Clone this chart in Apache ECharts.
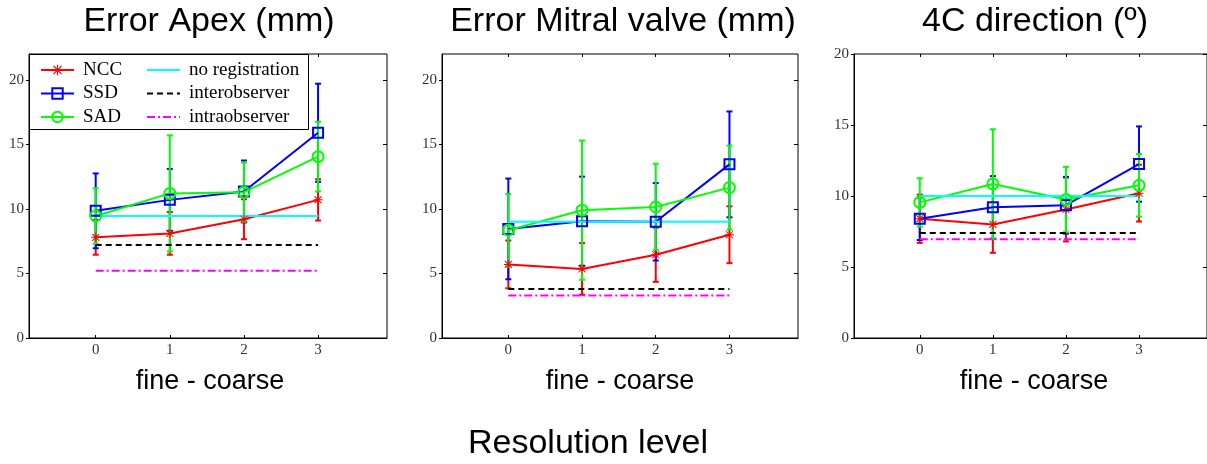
<!DOCTYPE html>
<html>
<head>
<meta charset="utf-8">
<script src="https://cdn.jsdelivr.net/npm/echarts@6/dist/echarts.min.js"></script>
<style>
  html, body { margin: 0; padding: 0; background: #fff; }
  #chart { width: 1207px; height: 464px; }
</style>
</head>
<body>
<div id="chart"></div>
<script>
// resolution levels (fine -> coarse)
const levels = [0, 1, 2, 3];
const xTicks = [0, 1, 2, 3];
const panelTitles = ['Error Apex (mm)', 'Error Mitral valve (mm)', '4C direction (º)'];
const yMaxes = [22, 22, 20];
const yTicks = [0, 5, 10, 15, 20];

// mean values per panel: [apex, mitral, 4C]
const nccMean = [[7.8, 8.1, 9.2, 10.7], [5.7, 5.35, 6.45, 8.0], [8.4, 8.0, 9.05, 10.2]];
const nccErr = [[1.35, 1.65, 1.55, 1.6], [1.85, 2.0, 2.1, 2.2], [1.7, 2.0, 2.25, 2.0]];
const ssdMean = [[9.85, 10.7, 11.35, 15.9], [8.45, 9.05, 9.0, 13.45], [8.4, 9.2, 9.35, 12.25]];
const ssdErr = [[2.9, 2.4, 2.4, 3.8], [3.9, 3.45, 3.0, 4.1], [1.5, 2.2, 2.0, 2.65]];
const sadMean = [[9.45, 11.2, 11.3, 14.05], [8.35, 9.9, 10.15, 11.65], [9.55, 10.85, 9.75, 10.75]];
const sadErr = [[2.15, 4.5, 2.3, 2.7], [2.8, 5.4, 3.35, 3.25], [1.7, 3.85, 2.3, 2.2]];

// reference levels per panel
const noRegistration = [9.45, 9.0, 10.0];
const interobserver = [7.2, 3.8, 7.4];
const intraobserver = [5.2, 3.3, 6.95];

const grids = [
  { left: 29, top: 54, width: 358, height: 284 },
  { left: 442, top: 54, width: 356, height: 284 },
  { left: 854, top: 54, width: 355, height: 284 }
];

const starPath = 'path://M9 1H11V19H9Z M1 9H19V11H1Z M2.3 3.7L3.7 2.3L17.7 16.3L16.3 17.7Z M16.3 2.3L17.7 3.7L3.7 17.7L2.3 16.3Z';

var myChart = echarts.init(document.getElementById('chart'), null, { renderer: 'canvas' });

const xAxes = [];
const yAxes = [];
grids.forEach((g, i) => {
  xAxes.push({
    type: 'value', gridIndex: i, min: -0.9, max: 3.93, position: 'bottom',
    splitLine: { show: false },
    axisLine: { onZero: false, lineStyle: { color: '#000' } },
    axisTick: { inside: true, length: 3, customValues: xTicks, lineStyle: { color: '#000' } },
    axisLabel: { customValues: xTicks, margin: 5, color: '#333', fontFamily: 'Liberation Serif', fontSize: 15 }
  });
  xAxes.push({
    type: 'value', gridIndex: i, min: -0.9, max: 3.93, position: 'top',
    splitLine: { show: false }, axisLine: { show: false, onZero: false }, axisLabel: { show: false },
    axisTick: { inside: true, length: 3, customValues: xTicks, lineStyle: { color: '#000' } }
  });
  yAxes.push({
    type: 'value', gridIndex: i, min: 0, max: yMaxes[i], position: 'left',
    splitLine: { show: false },
    axisLine: { onZero: false, lineStyle: { color: '#000' } },
    axisTick: { inside: false, length: 3, customValues: yTicks, lineStyle: { color: '#000' } },
    axisLabel: { customValues: yTicks, margin: 5, color: '#333', fontFamily: 'Liberation Serif', fontSize: 15 }
  });
  yAxes.push({
    type: 'value', gridIndex: i, min: 0, max: yMaxes[i], position: 'right',
    splitLine: { show: false }, axisLine: { show: false, onZero: false }, axisLabel: { show: false },
    axisTick: { inside: true, length: 4, customValues: yTicks, lineStyle: { color: '#000' } }
  });
});

function errSeries(name, color, means, errs, gi) {
  return {
    type: 'custom', name: name + ' err', xAxisIndex: gi * 2, yAxisIndex: gi * 2,
    silent: true,
    data: levels.map((x, k) => [x, means[k], errs[k]]),
    encode: { x: 0, y: 1 },
    renderItem: function (params, api) {
      var x = api.value(0), m = api.value(1), e = api.value(2);
      var top = api.coord([x, m + e]);
      var bot = api.coord([x, m - e]);
      var w = 3;
      var st = { stroke: color, lineWidth: 2 };
      return {
        type: 'group',
        children: [
          { type: 'line', shape: { x1: top[0], y1: top[1], x2: bot[0], y2: bot[1] }, style: st },
          { type: 'line', shape: { x1: top[0] - w, y1: top[1], x2: top[0] + w, y2: top[1] }, style: st },
          { type: 'line', shape: { x1: bot[0] - w, y1: bot[1], x2: bot[0] + w, y2: bot[1] }, style: st }
        ]
      };
    }
  };
}

function meanSeries(name, color, symbol, size, means, gi) {
  var hollow = symbol !== starPath;
  return {
    type: 'line', name: name, xAxisIndex: gi * 2, yAxisIndex: gi * 2,
    data: levels.map((x, k) => [x, means[k]]),
    color: color,
    symbol: symbol, symbolSize: size, showAllSymbol: true,
    lineStyle: { color: color, width: 2 },
    itemStyle: hollow
      ? { color: 'rgba(255,255,255,0)', borderColor: color, borderWidth: 2 }
      : { color: color },
    silent: true, animation: false
  };
}

function refSeries(name, color, type, value, gi) {
  return {
    type: 'line', name: name, xAxisIndex: gi * 2, yAxisIndex: gi * 2,
    data: [[levels[0], value], [levels[levels.length - 1], value]],
    color: color, symbol: 'circle', showSymbol: false,
    itemStyle: { color: 'rgba(0,0,0,0)', borderWidth: 0 },
    lineStyle: { color: color, width: 2, type: type },
    silent: true, animation: false
  };
}

const series = [];
grids.forEach((g, i) => {
  series.push(errSeries('NCC', '#ff0000', nccMean[i], nccErr[i], i));
  series.push(meanSeries('NCC', '#ff0000', starPath, 9, nccMean[i], i));
  series.push(errSeries('SSD', '#0000ff', ssdMean[i], ssdErr[i], i));
  series.push(meanSeries('SSD', '#0000ff', 'rect', 10, ssdMean[i], i));
  series.push(errSeries('SAD', '#00ff00', sadMean[i], sadErr[i], i));
  series.push(meanSeries('SAD', '#00ff00', 'circle', 11, sadMean[i], i));
  series.push(refSeries('no registration', '#00ffff', 'solid', noRegistration[i], i));
  series.push(refSeries('interobserver', '#000000', [6, 4], interobserver[i], i));
  series.push(refSeries('intraobserver', '#ff00ff', [8, 3, 2, 3], intraobserver[i], i));
});

const legendText = { fontFamily: 'Liberation Serif', fontSize: 19, color: '#000', lineHeight: 20, padding: [0, 0, 0, 4] };

const graphics = [
  {
    type: 'rect', left: 29, top: 54, z: 3,
    shape: { width: 279, height: 75 },
    style: { fill: '#fff', stroke: '#000', lineWidth: 1 }
  }
];
const titleX = [209, 623, 1035];
const xLabelX = [210, 620, 1034];
panelTitles.forEach((t, i) => {
  graphics.push({
    type: 'text', x: titleX[i], y: 22,
    style: { text: t, fontFamily: 'Liberation Sans', fontSize: 34, fill: '#000', align: 'center', verticalAlign: 'middle' }
  });
  graphics.push({
    type: 'text', x: xLabelX[i], y: 382,
    style: { text: 'fine - coarse', fontFamily: 'Liberation Sans', fontSize: 27, fill: '#000', align: 'center', verticalAlign: 'middle' }
  });
});
graphics.push({
  type: 'text', x: 588, y: 444,
  style: { text: 'Resolution level', fontFamily: 'Liberation Sans', fontSize: 34, fill: '#000', align: 'center', verticalAlign: 'middle' }
});

var option = {
  animation: false,
  backgroundColor: '#fff',
  grid: grids.map(g => Object.assign({ show: true, borderColor: '#000', borderWidth: 1, backgroundColor: 'transparent' }, g)),
  xAxis: xAxes,
  yAxis: yAxes,
  legend: [
    {
      data: ['NCC', 'SSD', 'SAD'], orient: 'vertical', left: 40, top: 60, z: 10,
      itemWidth: 33, itemHeight: 13, itemGap: 3.5, padding: 0,
      selectedMode: false, textStyle: legendText
    },
    {
      data: ['no registration', 'interobserver', 'intraobserver'], orient: 'vertical', left: 146, top: 60, z: 10,
      itemWidth: 33, itemHeight: 13, itemGap: 3.5, padding: 0,
      selectedMode: false, textStyle: legendText
    }
  ],
  graphic: graphics,
  series: series
};

if (option && typeof option === 'object') {
  myChart.setOption(option);
}
</script>
</body>
</html>
